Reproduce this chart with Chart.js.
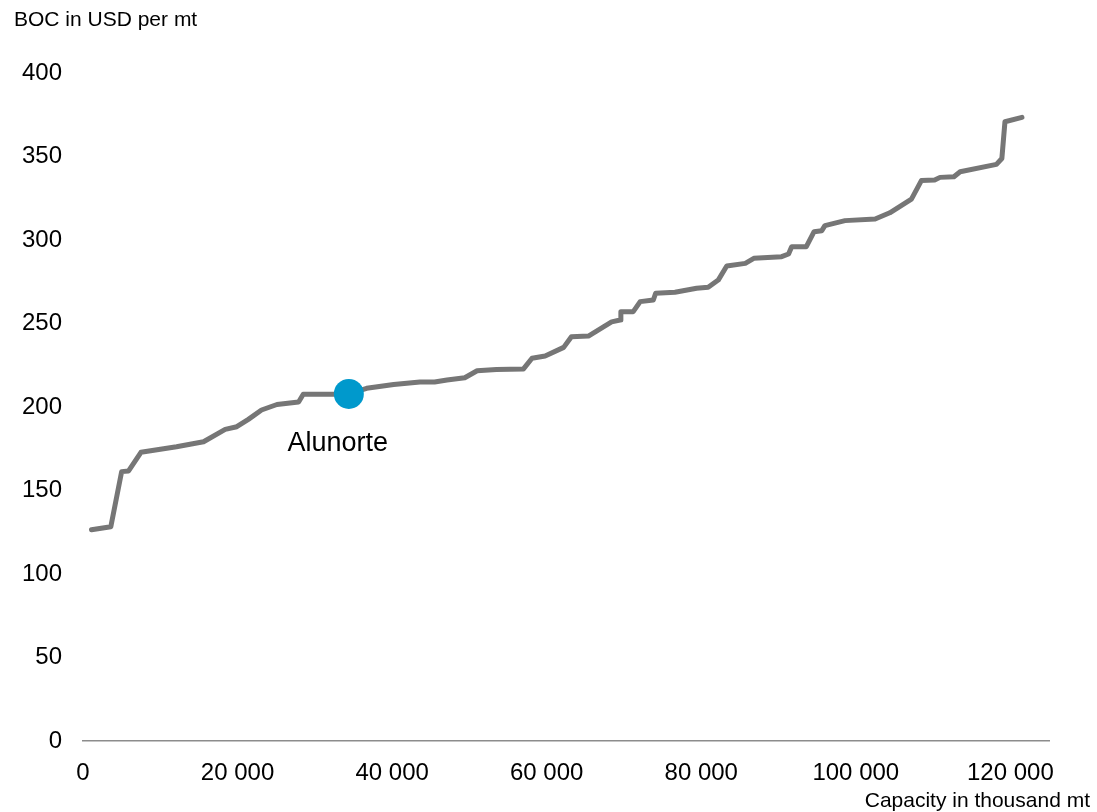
<!DOCTYPE html>
<html>
<head>
<meta charset="utf-8">
<script src="https://cdn.jsdelivr.net/npm/chart.js@4/dist/chart.umd.min.js"></script>
<style>
  body { margin: 0; background: #fff; }
  #wrap { width: 1097px; height: 812px; }
</style>
</head>
<body>
<div id="wrap"><canvas id="myChart" width="1097" height="812"></canvas></div>
<script>
// cost curve: cumulative capacity (thousand mt) vs BOC (USD per mt)
const capacity = [1100, 3600, 5000, 5900, 7500, 12100, 15600, 18400, 19900, 21400, 23100, 25100, 27900, 28500, 32400, 34400,
  36700, 40200, 43600, 45500, 47100, 49400, 51000, 53500, 57000, 58100, 59800, 62200, 63200, 65400, 68400, 69500, 69600,
  71200, 72100, 73800, 74100, 76600, 79400, 80900, 82200, 83300, 85700, 86800, 90400, 91300, 91700, 93600, 94600, 95600,
  96000, 98600, 102500, 104400, 107200, 108500, 110200, 110900, 112700, 113500, 118200, 118900, 119300, 121500];
const boc = [126.5, 128.3, 161.3, 161.7, 172.9, 176.2, 179.2, 186.6, 188.2, 192.6, 198.2, 201.5, 203.0, 207.6, 207.6, 207.8,
  211.2, 213.5, 215.0, 215.0, 216.2, 217.5, 221.7, 222.4, 222.8, 229.2, 230.5, 235.7, 242.1, 242.5, 251.0, 252.1, 257.1,
  257.1, 263.1, 264.1, 268.1, 268.7, 271.1, 271.7, 276.0, 284.4, 286.0, 289.0, 290.0, 291.6, 296.0, 296.0, 305.0, 305.6,
  308.6, 311.6, 312.6, 316.3, 324.5, 335.7, 335.9, 337.5, 337.9, 340.9, 345.3, 348.8, 370.8, 373.4];

const highlightName = "Alunorte";
const highlightX = 34400;
const highlightY = 207.8;

const yTicks = [0, 50, 100, 150, 200, 250, 300, 350, 400];
const xTicks = [0, 20000, 40000, 60000, 80000, 100000, 120000];

const yTitle = "BOC in USD per mt";
const xTitle = "Capacity in thousand mt";

const fmt = v => String(v).replace(/\B(?=(\d{3})+(?!\d))/g, ' ');
const FONT = '"Liberation Sans", Arial, sans-serif';

const labelsPlugin = {
  id: 'labelsPlugin',
  afterDraw(chart) {
    const ctx = chart.ctx;
    ctx.save();
    ctx.fillStyle = '#000';
    ctx.font = '21px ' + FONT;
    ctx.textBaseline = 'alphabetic';
    ctx.textAlign = 'left';
    ctx.fillText(yTitle, 14, 26);
    ctx.textAlign = 'right';
    ctx.fillText(xTitle, 1090, 807);
    // highlight label
    const pt = chart.getDatasetMeta(1).data[0];
    ctx.font = '27px ' + FONT;
    ctx.textAlign = 'center';
    ctx.fillText(highlightName, pt.x - 11, pt.y + 57);
    ctx.restore();
  }
};

const mychart = new Chart(document.getElementById("myChart"), {
  type: 'scatter',
  data: {
    datasets: [{
      data: capacity.map((c, i) => ({ x: c, y: boc[i] })),
      showLine: true,
      borderColor: '#767676',
      borderWidth: 5,
      borderCapStyle: 'round',
      borderJoinStyle: 'round',
      pointRadius: 0,
      tension: 0,
      order: 2
    }, {
      data: [{ x: highlightX, y: highlightY }],
      pointRadius: 15,
      pointBackgroundColor: '#0099cc',
      pointBorderWidth: 0,
      order: 1
    }]
  },
  options: {
    responsive: false,
    animation: false,
    layout: { padding: { top: 73, right: 48, bottom: 20, left: 0 } },
    plugins: { legend: { display: false }, tooltip: { enabled: false } },
    scales: {
      x: {
        type: 'linear',
        min: 0,
        max: 125000,
        afterBuildTicks: s => { s.ticks = xTicks.map(v => ({ value: v })); },
        afterFit: s => { s.height = 51; },
        grid: { display: false, drawTicks: false },
        border: { display: true, color: '#8c8c8c', width: 1.5 },
        ticks: {
          color: '#000',
          padding: 18,
          maxRotation: 0,
          font: { family: FONT, size: 24 },
          callback: v => fmt(v)
        }
      },
      y: {
        min: 0,
        max: 400,
        afterBuildTicks: s => { s.ticks = yTicks.map(v => ({ value: v })); },
        afterFit: s => { s.width = 83; },
        grid: { display: false, drawTicks: false },
        border: { display: false },
        ticks: {
          color: '#000',
          padding: 21,
          font: { family: FONT, size: 24 }
        }
      }
    }
  },
  plugins: [labelsPlugin]
});
</script>
</body>
</html>
